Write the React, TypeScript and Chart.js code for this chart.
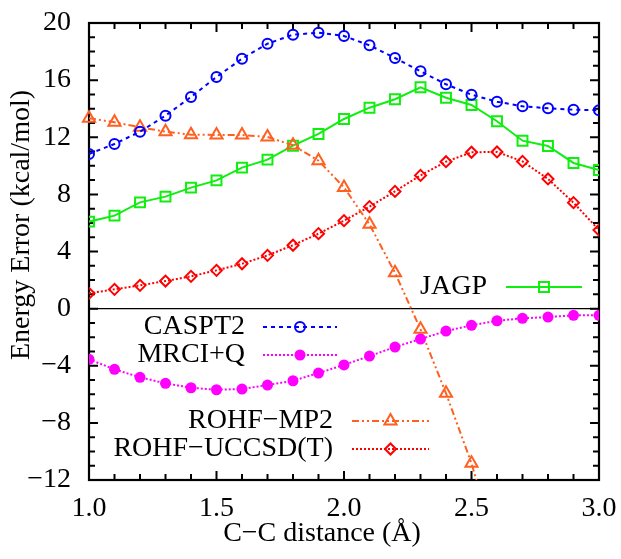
import React, { useEffect, useRef } from "react";
import { Chart, registerables, PointElement } from "chart.js";

Chart.register(...registerables);

// ---------- data ----------
const distances = [1.0, 1.1, 1.2, 1.3, 1.4, 1.5, 1.6, 1.7, 1.8, 1.9, 2.0, 2.1, 2.2, 2.3, 2.4, 2.5, 2.6, 2.7, 2.8, 2.9, 3.0];

const caspt2 = [10.83, 11.53, 12.39, 13.51, 14.82, 16.22, 17.5, 18.55, 19.18, 19.32, 19.09, 18.44, 17.55, 16.62, 15.71, 14.98, 14.49, 14.17, 14.03, 13.93, 13.89];
const mrciq = [-3.55, -4.25, -4.81, -5.23, -5.54, -5.68, -5.63, -5.35, -5.05, -4.51, -3.94, -3.32, -2.69, -2.13, -1.57, -1.17, -0.85, -0.68, -0.59, -0.47, -0.47];
const rohfMp2 = [13.33, 13.05, 12.7, 12.39, 12.18, 12.16, 12.16, 12.02, 11.44, 10.36, 8.49, 5.9, 2.51, -1.45, -5.93, -10.83, -17.0, null, null, null, null];
const rohfUccsdt = [1.07, 1.35, 1.63, 1.93, 2.26, 2.68, 3.14, 3.73, 4.44, 5.25, 6.16, 7.14, 8.21, 9.33, 10.29, 10.95, 10.97, 10.31, 9.08, 7.42, 5.5];
const jagp = [6.09, 6.51, 7.44, 7.84, 8.47, 8.98, 9.87, 10.43, 11.41, 12.23, 13.28, 14.07, 14.66, 15.5, 14.77, 14.26, 13.12, 11.76, 11.39, 10.2, 9.71];

const seriesNames = ["CASPT2", "MRCI+Q", "ROHF\u2212MP2", "ROHF\u2212UCCSD(T)", "JAGP"];

const xTickLabels = ["1.0", "1.5", "2.0", "2.5", "3.0"];
const xTitle = "C\u2212C distance (\u00c5)";
const yTitle = "Energy Error (kcal/mol)";

const FONT = "'Liberation Serif', 'DejaVu Serif', serif";
const FONT_SIZE = 28;

// legend placement (layout only)
const legendLayout = [
  { textRight: 245, y: 327, x1: 263, x2: 337 },
  { textRight: 245, y: 355, x1: 263, x2: 337 },
  { textRight: 333, y: 421, x1: 352, x2: 429 },
  { textRight: 333, y: 449, x1: 352, x2: 429 },
  { textRight: 487, y: 287, x1: 506, x2: 582 },
];

const toPoints = (arr: (number | null)[]) => distances.map((x, i) => ({ x, y: arr[i] }));

const fmtY = (v: number) => (v < 0 ? "\u2212" + Math.abs(v) : String(v));

const framePlugin = {
  id: "gnuFrame",
  beforeDatasetsDraw(chart: any) {
    const { ctx, chartArea: a, scales } = chart;
    const xs = scales.x;
    const ys = scales.y;
    ctx.save();
    // zero line
    const y0 = ys.getPixelForValue(0);
    ctx.strokeStyle = "#000";
    ctx.lineWidth = 1.4;
    ctx.beginPath();
    ctx.moveTo(a.left, y0);
    ctx.lineTo(a.right, y0);
    ctx.stroke();
    // ticks
    ctx.lineWidth = 2;
    for (let i = 0; i <= 20; i++) {
      const v = 1 + i * 0.1;
      const px = xs.getPixelForValue(v);
      const len = i % 5 === 0 ? 9 : 6;
      ctx.beginPath();
      ctx.moveTo(px, a.bottom);
      ctx.lineTo(px, a.bottom - len);
      ctx.moveTo(px, a.top);
      ctx.lineTo(px, a.top + len);
      ctx.stroke();
    }
    for (let v = -12; v <= 20; v++) {
      const py = ys.getPixelForValue(v);
      const len = v % 4 === 0 ? 9 : 6;
      ctx.beginPath();
      ctx.moveTo(a.left, py);
      ctx.lineTo(a.left + len, py);
      ctx.moveTo(a.right, py);
      ctx.lineTo(a.right - len, py);
      ctx.stroke();
    }
    // frame
    ctx.lineWidth = 2.2;
    ctx.strokeRect(a.left, a.top, a.right - a.left, a.bottom - a.top);
    ctx.restore();
  },
  afterDraw(chart: any) {
    const { ctx } = chart;
    ctx.save();
    ctx.fillStyle = "#000";
    ctx.font = `${FONT_SIZE}px ${FONT}`;
    // x title
    ctx.textAlign = "center";
    ctx.textBaseline = "middle";
    ctx.fillText(xTitle, 322, 534);
    // y title
    ctx.save();
    ctx.translate(22, 225);
    ctx.rotate(-Math.PI / 2);
    ctx.fillText(yTitle, 0, 0);
    ctx.restore();
    // legend
    chart.data.datasets.forEach((ds: any, i: number) => {
      const L = legendLayout[i];
      if (!L) return;
      ctx.textAlign = "right";
      ctx.textBaseline = "middle";
      ctx.fillStyle = "#000";
      ctx.fillText(ds.label, L.textRight, L.y);
      ctx.save();
      ctx.strokeStyle = ds.borderColor;
      ctx.lineWidth = ds.borderWidth;
      ctx.setLineDash(ds.borderDash || []);
      ctx.beginPath();
      ctx.moveTo(L.x1, L.y);
      ctx.lineTo(L.x2, L.y);
      ctx.stroke();
      ctx.setLineDash([]);
      const pt: any = new (PointElement as any)({
        x: (L.x1 + L.x2) / 2,
        y: L.y,
        options: {
          pointStyle: ds.pointStyle,
          radius: ds.pointRadius,
          rotation: 0,
          borderWidth: ds.pointBorderWidth,
          backgroundColor: ds.pointBackgroundColor,
          borderColor: ds.pointBorderColor,
        },
      });
      pt.draw(ctx);
      ctx.restore();
    });
    ctx.restore();
  },
};

const zeroPad = (s: any) => {
  s.paddingTop = 0;
  s.paddingBottom = 0;
  s.paddingLeft = 0;
  s.paddingRight = 0;
};

export default function App() {
  const ref = useRef<HTMLCanvasElement | null>(null);

  useEffect(() => {
    if (!ref.current) return;
    const clear = "rgba(0,0,0,0)";
    const mk = (label: string, data: (number | null)[], color: string, dash: number[], style: string, radius: number, fill: boolean, extra: any = {}) => ({
      label,
      data: toPoints(data),
      borderColor: color,
      borderWidth: 2,
      borderDash: dash,
      pointStyle: style,
      pointRadius: radius,
      pointBorderWidth: fill ? 0 : 2,
      pointBorderColor: color,
      pointBackgroundColor: fill ? color : clear,
      pointHoverRadius: radius,
      tension: 0,
      fill: false,
      spanGaps: false,
      ...extra,
    });
    const chart = new Chart(ref.current, {
      type: "line",
      data: {
        datasets: [
          mk(seriesNames[0], caspt2, "#0000ff", [4, 4], "circle", 5, false),
          mk(seriesNames[1], mrciq, "#ff00ff", [2, 2], "circle", 5.5, true),
          mk(seriesNames[2], rohfMp2, "#ff6020", [7, 3, 2, 3, 2, 3], "triangle", 7, false, { clip: { left: 12, right: 12, top: 12, bottom: 0 } }),
          mk(seriesNames[3], rohfUccsdt, "#ff0000", [2, 2], "rectRot", 5.5, false),
          mk(seriesNames[4], jagp, "#10ee10", [], "rect", 7, false),
        ] as any,
      },
      options: {
        animation: false,
        responsive: false,
        maintainAspectRatio: false,
        events: [],
        layout: { padding: { top: 23, right: 22, left: 0, bottom: 0 } },
        plugins: { legend: { display: false }, tooltip: { enabled: false } },
        scales: {
          x: {
            type: "linear",
            min: 1,
            max: 3,
            grid: { display: false, drawTicks: false },
            border: { display: false },
            ticks: {
              stepSize: 0.5,
              padding: 12,
              color: "#000",
              maxRotation: 0,
              autoSkip: false,
              font: { family: FONT, size: FONT_SIZE },
              callback: (v: any) => {
                const idx = Math.round((Number(v) - 1) / 0.5);
                return xTickLabels[idx] ?? Number(v).toFixed(1);
              },
            },
            afterFit: (s: any) => {
              s.height = 79;
              zeroPad(s);
            },
          },
          y: {
            type: "linear",
            min: -12,
            max: 20,
            grid: { display: false, drawTicks: false },
            border: { display: false },
            ticks: {
              stepSize: 4,
              padding: 18,
              color: "#000",
              autoSkip: false,
              font: { family: FONT, size: FONT_SIZE },
              callback: (v: any) => fmtY(Number(v)),
            },
            afterFit: (s: any) => {
              s.width = 89;
              zeroPad(s);
            },
          },
        },
      } as any,
      plugins: [framePlugin],
    });
    return () => chart.destroy();
  }, []);

  return (
    <div style={{ position: "fixed", left: 0, top: 0, width: 621, height: 559, background: "#fff" }}>
      <canvas ref={ref} width={621} height={559} style={{ display: "block", width: 621, height: 559 }} />
    </div>
  );
}
